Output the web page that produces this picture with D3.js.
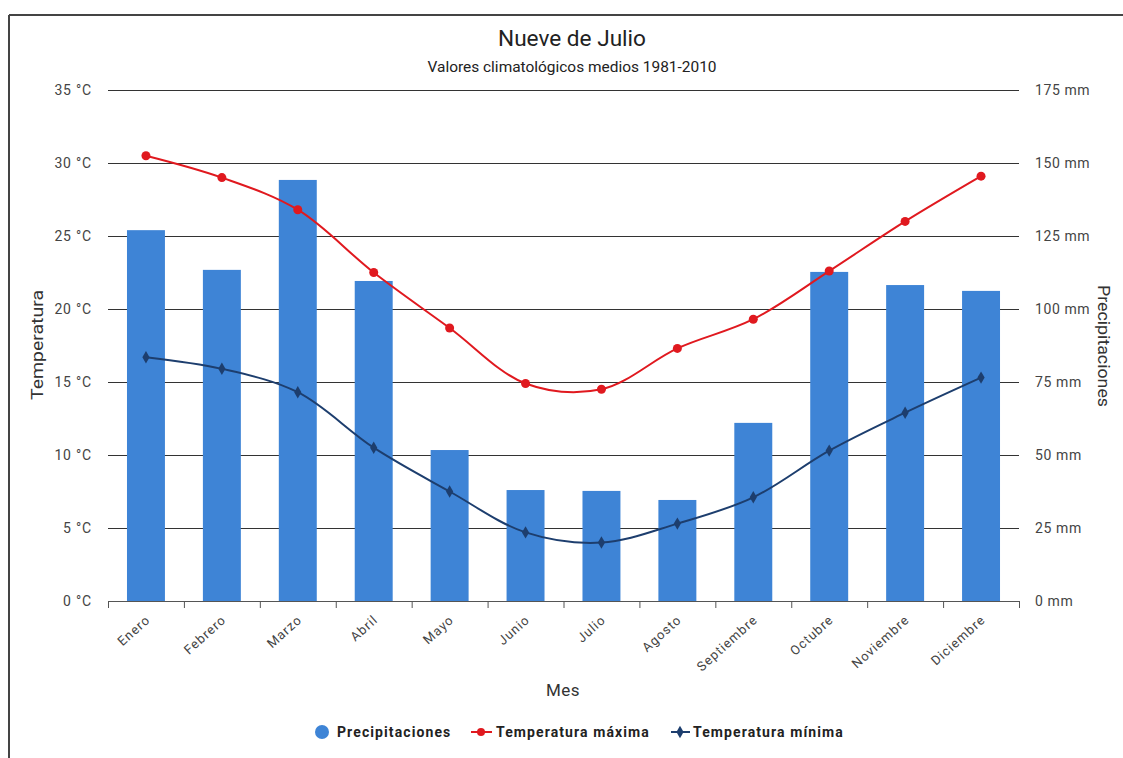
<!DOCTYPE html>
<html><head><meta charset="utf-8">
<script src="https://cdn.jsdelivr.net/npm/d3@7"></script>
<style>
body{margin:0;background:#fff;}
svg{display:block;font-family:Roboto,"Noto Sans",sans-serif;}
</style></head><body>
<svg id="c" width="1123" height="758"></svg>
<script>
const months = ["Enero","Febrero","Marzo","Abril","Mayo","Junio","Julio","Agosto","Septiembre","Octubre","Noviembre","Diciembre"];
const precip = [127, 113.4, 144.2, 109.6, 51.7, 38.0, 37.7, 34.6, 61, 112.7, 108.2, 106.2];
const tmax = [30.5, 29.0, 26.8, 22.5, 18.7, 14.9, 14.5, 17.3, 19.3, 22.6, 26.0, 29.1];
const tmin = [16.7, 15.9, 14.3, 10.5, 7.5, 4.7, 4.0, 5.3, 7.1, 10.3, 12.9, 15.3];
const tempTicks = [0,5,10,15,20,25,30,35];
const mmTicks = [0,25,50,75,100,125,150,175];

const svg = d3.select("#c");
const L = 108, R = 1019, T = 90, B = 601;
const x = d3.scaleBand().domain(months).range([L, R]).paddingInner(0.5).paddingOuter(0.25);
const xb = d3.scaleBand().domain(months).range([L, R]);
const yT = d3.scaleLinear().domain([0,35]).range([B, T]);
const yP = d3.scaleLinear().domain([0,175]).range([B, T]);

// frame
svg.append("line").attr("x1",9).attr("x2",1123).attr("y1",15).attr("y2",15).attr("stroke","#444").attr("stroke-width",2);
svg.append("line").attr("x1",9).attr("x2",9).attr("y1",15).attr("y2",758).attr("stroke","#444").attr("stroke-width",2);

// title
svg.append("text").attr("x",572).attr("y",46).attr("text-anchor","middle")
  .attr("textLength",148).attr("lengthAdjust","spacingAndGlyphs")
  .style("font-size","22px").attr("fill","#222").text("Nueve de Julio");
svg.append("text").attr("x",572).attr("y",72).attr("text-anchor","middle")
  .attr("textLength",289).attr("lengthAdjust","spacingAndGlyphs")
  .style("font-size","14px").attr("fill","#222").text("Valores climatológicos medios 1981-2010");

// gridlines
svg.append("g").selectAll("line").data(tempTicks.filter(d=>d>0)).join("line")
  .attr("x1",L).attr("x2",R).attr("y1",d=>yT(d)+0.5).attr("y2",d=>yT(d)+0.5)
  .attr("stroke","#333").attr("stroke-width",1);

// left axis labels
svg.append("g").selectAll("text").data(tempTicks).join("text")
  .attr("x",92).attr("y",d=>yT(d)+5).attr("text-anchor","end")
  .style("font-size","14px").style("letter-spacing","0.8px").attr("fill","#444").text(d=>d+" °C");
// right axis labels
svg.append("g").selectAll("text").data(mmTicks).join("text")
  .attr("x",1035).attr("y",d=>yP(d)+5).attr("text-anchor","start")
  .style("font-size","14px").style("letter-spacing","0.6px").attr("fill","#444").text(d=>d+" mm");

// bars
svg.append("g").selectAll("rect").data(precip).join("rect")
  .attr("x",(d,i)=>x(months[i])).attr("width",x.bandwidth())
  .attr("y",d=>yP(d)).attr("height",d=>B-yP(d)).attr("fill","#3e84d6");

// x axis
const xAxis = svg.append("g");
xAxis.append("line").attr("x1",L).attr("x2",R).attr("y1",B+0.5).attr("y2",B+0.5).attr("stroke","#555");
const bounds = months.map(m=>xb(m)).concat([R]);
xAxis.selectAll("line.t").data(bounds).join("line").attr("class","t")
  .attr("x1",d=>d+0.5).attr("x2",d=>d+0.5).attr("y1",B).attr("y2",B+7).attr("stroke","#555");
xAxis.selectAll("text").data(months).join("text")
  .attr("transform",d=>`translate(${x(d)+x.bandwidth()/2+5},${B+20}) rotate(-42)`)
  .attr("text-anchor","end").style("font-size","13px").style("letter-spacing","1px").attr("fill","#444").text(d=>d);

// axis titles
svg.append("text").attr("transform","translate(43,345) rotate(-90)").attr("text-anchor","middle")
  .attr("textLength",110).attr("lengthAdjust","spacingAndGlyphs")
  .style("font-size","17px").attr("fill","#333").text("Temperatura");
svg.append("text").attr("transform","translate(1098,346) rotate(90)").attr("text-anchor","middle")
  .attr("textLength",122).attr("lengthAdjust","spacingAndGlyphs")
  .style("font-size","17px").attr("fill","#333").text("Precipitaciones");
svg.append("text").attr("x",563).attr("y",696).attr("text-anchor","middle")
  .style("font-size","17px").style("letter-spacing","0.5px").attr("fill","#333").text("Mes");

// lines
const cx = i => x(months[i]) + x.bandwidth()/2;
const lineT = d3.line().x((d,i)=>cx(i)).y(d=>yT(d)).curve(d3.curveCatmullRom.alpha(0.5));
svg.append("path").attr("d",lineT(tmax)).attr("fill","none").attr("stroke","#e0191f").attr("stroke-width",2);
svg.append("path").attr("d",lineT(tmin)).attr("fill","none").attr("stroke","#1d3e6e").attr("stroke-width",2);
svg.append("g").selectAll("circle").data(tmax).join("circle")
  .attr("cx",(d,i)=>cx(i)).attr("cy",d=>yT(d)).attr("r",4.5).attr("fill","#e0191f");
const diamond = d3.symbol().type(d3.symbolDiamond).size(45);
svg.append("g").selectAll("path").data(tmin).join("path")
  .attr("transform",(d,i)=>`translate(${cx(i)},${yT(d)})`).attr("d",diamond).attr("fill","#1d3e6e");

// legend
const lg = svg.append("g").style("font-size","14px").style("font-weight","bold").style("letter-spacing","1.1px").attr("fill","#222");
lg.append("circle").attr("cx",322).attr("cy",732).attr("r",7).attr("fill","#3e84d6");
lg.append("text").attr("x",337).attr("y",737).text("Precipitaciones");
lg.append("line").attr("x1",471).attr("x2",492).attr("y1",732).attr("y2",732).attr("stroke","#e0191f").attr("stroke-width",2);
lg.append("circle").attr("cx",481).attr("cy",732).attr("r",4).attr("fill","#e0191f");
lg.append("text").attr("x",496).attr("y",737).text("Temperatura máxima");
lg.append("line").attr("x1",671).attr("x2",690).attr("y1",732).attr("y2",732).attr("stroke","#1d3e6e").attr("stroke-width",2);
lg.append("path").attr("transform","translate(680,732)").attr("d",diamond).attr("fill","#1d3e6e");
lg.append("text").attr("x",693).attr("y",737).text("Temperatura mínima");
</script>
</body></html>
